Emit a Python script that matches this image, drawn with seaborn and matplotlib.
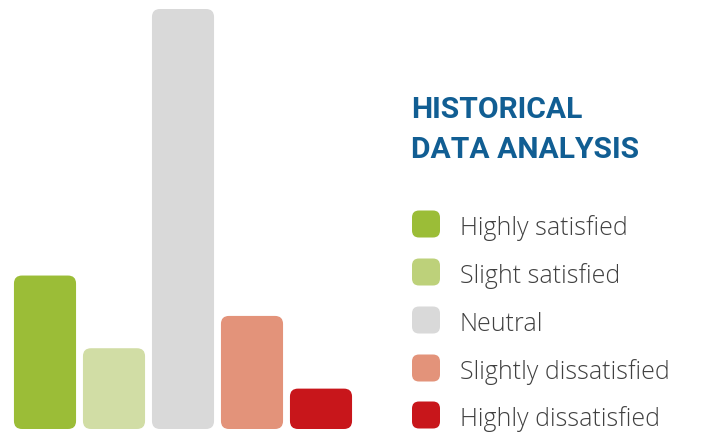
import matplotlib
matplotlib.use("Agg")
import matplotlib.pyplot as plt
from matplotlib.patches import FancyBboxPatch
import seaborn as sns
import pandas as pd

categories = ["Highly satisfied", "Slight satisfied", "Neutral",
              "Slightly dissatisfied", "Highly dissatisfied"]
values = [19, 10, 52, 14, 5]
bar_colors = ["#9BBD37", "#D1DDA5", "#D9D9D9", "#E3937A", "#C8161B"]
legend_colors = ["#9BBD37", "#BDD17A", "#D9D9D9", "#E3937A", "#C8161B"]
title_lines = ["HISTORICAL", "DATA ANALYSIS"]

W, H = 703, 432
sns.set_theme(style="white")
plt.rcParams["font.family"] = ["Roboto", "DejaVu Sans"]

fig = plt.figure(figsize=(W / 100, H / 100), dpi=100)
ax = fig.add_axes([10.5 / W, 3 / H, 345 / W, 420 / H])

df = pd.DataFrame({"category": categories, "value": values})
sns.barplot(data=df, x="category", y="value", hue="category",
            palette=bar_colors, saturation=1, width=0.9, legend=False, ax=ax,
            order=categories, hue_order=categories)
ax.set_xlim(-0.5, 4.5)
ax.set_ylim(0, 52)
ax.set_axis_off()

# rounded corners
x_px_per_unit = 345 / 5.0
y_px_per_unit = 420 / 52.0
radius_px = 8
r_x = radius_px / x_px_per_unit
aspect = x_px_per_unit / y_px_per_unit
for p in list(ax.patches):
    x, y, w, h = p.get_x(), p.get_y(), p.get_width(), p.get_height()
    fc = p.get_facecolor()
    p.set_visible(False)
    ax.add_patch(FancyBboxPatch((x, y), w, h,
                                boxstyle=f"round,pad=0,rounding_size={r_x}",
                                mutation_aspect=aspect, fc=fc, ec="none"))

# legend / title overlay in pixel coordinates
lax = fig.add_axes([0, 0, 1, 1], facecolor="none")
lax.set_xlim(0, W)
lax.set_ylim(H, 0)
lax.set_axis_off()

lax.text(411, 118, title_lines[0], color="#115E93", fontsize=21.6,
         fontweight="bold", va="baseline", ha="left")
lax.text(411, 158, title_lines[1], color="#115E93", fontsize=21.6,
         fontweight="bold", va="baseline", ha="left")

row_y = [224, 272, 320, 368, 415]
for yc, lab, col in zip(row_y, categories, legend_colors):
    lax.add_patch(FancyBboxPatch((412, yc - 13.5), 28, 27,
                                 boxstyle="round,pad=0,rounding_size=7",
                                 fc=col, ec="none"))
    lax.text(460, yc + 11, lab, color="#404040", fontsize=18,
             fontweight="light", va="baseline", ha="left",
             family=["Open Sans", "DejaVu Sans"])

fig.savefig("out.png", dpi=100)
